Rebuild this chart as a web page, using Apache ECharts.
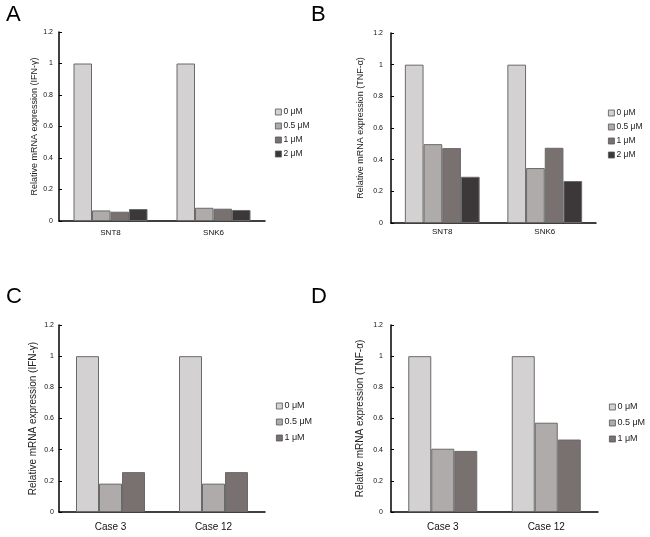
<!DOCTYPE html>
<html>
<head>
<meta charset="utf-8">
<script src="https://cdn.jsdelivr.net/npm/echarts@6/dist/echarts.min.js"></script>
<style>html,body{margin:0;padding:0;background:#fff}#c{width:650px;height:537px}</style>
</head>
<body>
<div id="c"></div>
<script>
// ---- data ----
const catsAB = ['SNT8', 'SNK6'];
const catsCD = ['Case 3', 'Case 12'];
const dosesAB = ['0 μM', '0.5 μM', '1 μM', '2 μM'];
const dosesCD = ['0 μM', '0.5 μM', '1 μM'];
const yTicks = [0, 0.2, 0.4, 0.6, 0.8, 1, 1.2];
// Panel A: IFN-γ, cell lines
const A_0 = [1, 1];
const A_05 = [0.067, 0.084];
const A_1 = [0.059, 0.078];
const A_2 = [0.076, 0.070];
// Panel B: TNF-α, cell lines
const B_0 = [1, 1];
const B_05 = [0.498, 0.347];
const B_1 = [0.473, 0.475];
const B_2 = [0.292, 0.265];
// Panel C: IFN-γ, cases
const C_0 = [1, 1];
const C_05 = [0.182, 0.182];
const C_1 = [0.256, 0.256];
// Panel D: TNF-α, cases
const D_0 = [1, 1];
const D_05 = [0.406, 0.573];
const D_1 = [0.392, 0.465];

const fills = ['#d3d1d2', '#afabaa', '#78716f', '#3c3839'];
const font = 'Liberation Sans, Arial, sans-serif';

const grids = [
  {left: 59, top: 32, width: 206, height: 189},
  {left: 391, top: 33, width: 205, height: 190},
  {left: 59, top: 325, width: 206, height: 187},
  {left: 391, top: 325, width: 207, height: 187}
];
const yNames = ['Relative mRNA expression (IFN-γ)', 'Relative mRNA expression (TNF-α)',
                'Relative mRNA expression (IFN-γ)', 'Relative mRNA expression (TNF-α)'];
const nameGaps = [16, 26, 21, 26];
const labelMargins = [6, 8, 5, 8];
const xCats = [catsAB, catsAB, catsCD, catsCD];
const xFont = [8, 8, 10, 10];
const xMargin = [8, 5, 10, 10];
const yNameFont = [9, 9, 10, 10];

const xAxis = xCats.map((c, i) => ({
  type: 'category', gridIndex: i, data: c,
  axisLine: {lineStyle: {color: '#000', width: 1.5}},
  axisTick: {show: false},
  axisLabel: {color: '#111', fontSize: xFont[i], fontFamily: font, margin: xMargin[i]}
}));
const yAxis = grids.map((g, i) => ({
  type: 'value', gridIndex: i, min: yTicks[0], max: yTicks[yTicks.length - 1], interval: 0.2,
  name: yNames[i], nameLocation: 'middle', nameGap: nameGaps[i],
  nameTextStyle: {color: '#222', fontSize: yNameFont[i], fontFamily: font},
  axisLine: {show: true, lineStyle: {color: '#000', width: 1.5}},
  axisTick: {show: true, inside: true, length: 3, lineStyle: {color: '#000'}},
  splitLine: {show: false},
  axisLabel: {color: '#111', fontSize: 7, fontFamily: font, margin: labelMargins[i]}
}));

function bar(name, data, idx, gi, w) {
  return {
    type: 'bar', name: name, data: data, xAxisIndex: gi, yAxisIndex: gi,
    barWidth: w, barGap: '0%',
    itemStyle: {color: fills[idx], borderColor: '#6a6a6a', borderWidth: 1},
    emphasis: {disabled: true}
  };
}
const series = [
  bar(dosesAB[0], A_0, 0, 0, 18.5), bar(dosesAB[1], A_05, 1, 0, 18.5), bar(dosesAB[2], A_1, 2, 0, 18.5), bar(dosesAB[3], A_2, 3, 0, 18.5),
  bar(dosesAB[0], B_0, 0, 1, 18.7), bar(dosesAB[1], B_05, 1, 1, 18.7), bar(dosesAB[2], B_1, 2, 1, 18.7), bar(dosesAB[3], B_2, 3, 1, 18.7),
  bar(dosesCD[0], C_0, 0, 2, 23), bar(dosesCD[1], C_05, 1, 2, 23), bar(dosesCD[2], C_1, 2, 2, 23),
  bar(dosesCD[0], D_0, 0, 3, 23), bar(dosesCD[1], D_05, 1, 3, 23), bar(dosesCD[2], D_1, 2, 3, 23)
];

function legend(data, left, top, gap, fs) {
  return {
    data: data, left: left, top: top, orient: 'vertical',
    itemWidth: 6, itemHeight: 6, itemGap: gap, icon: 'rect',
    selectedMode: false,
    itemStyle: {borderColor: '#555', borderWidth: 0.8},
    textStyle: {color: '#222', fontSize: fs, fontFamily: font, lineHeight: 10, padding: [0, 0, 0, -3]},
    padding: 0
  };
}

const panelLetter = (t, x, y) => ({
  type: 'text', left: x, top: y,
  style: {text: t, fontSize: 22, fontFamily: font, fill: '#000'}
});

const chart = echarts.init(document.getElementById('c'), null, {renderer: 'canvas'});
chart.setOption({
  backgroundColor: '#fff',
  animation: false,
  grid: grids,
  xAxis: xAxis,
  yAxis: yAxis,
  legend: [
    legend(dosesAB, 275, 107, 4, 8.5),
    legend(dosesAB, 608, 108, 4, 8.5),
    legend(dosesCD, 276, 401, 6, 9),
    legend(dosesCD, 609, 402, 6, 9)
  ],
  graphic: [
    panelLetter('A', 6, 4), panelLetter('B', 311, 4),
    panelLetter('C', 6, 286), panelLetter('D', 311, 286)
  ],
  series: series
});
</script>
</body>
</html>
